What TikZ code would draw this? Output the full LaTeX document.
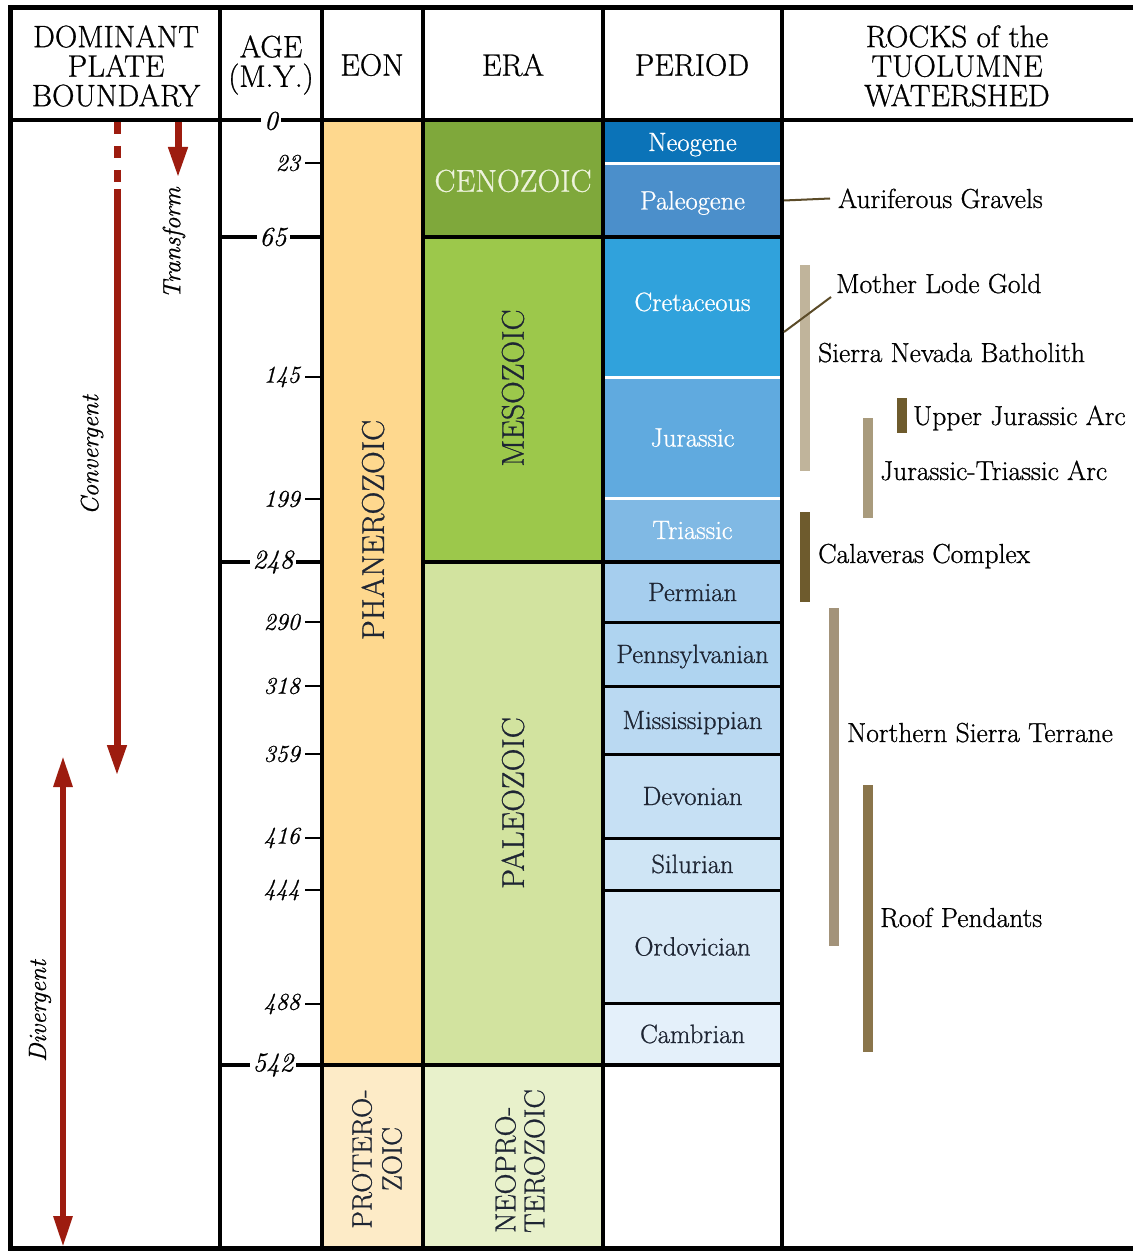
\documentclass[tikz,border=0pt]{standalone}
\usepackage{fontspec}
\setmainfont{Latin Modern Roman}[FakeBold=0.8]
\usetikzlibrary{arrows.meta}

% palette
\definecolor{arrowred}{HTML}{9D1C0F}
\definecolor{phan}{HTML}{FED88E}
\definecolor{prot}{HTML}{FDEBC7}
\definecolor{ceno}{HTML}{7FA83B}
\definecolor{meso}{HTML}{9CC84B}
\definecolor{paleo}{HTML}{D2E39F}
\definecolor{neopro}{HTML}{E8F1CB}
\definecolor{neogene}{HTML}{0B73B8}
\definecolor{paleogene}{HTML}{4B8FCB}
\definecolor{cret}{HTML}{30A2DC}
\definecolor{jura}{HTML}{60AADF}
\definecolor{tria}{HTML}{80B9E4}
\definecolor{perm}{HTML}{A6CEEE}
\definecolor{penn}{HTML}{AFD4F0}
\definecolor{miss}{HTML}{BAD9F2}
\definecolor{devo}{HTML}{C6E0F4}
\definecolor{silu}{HTML}{CFE5F5}
\definecolor{ordo}{HTML}{D9EAF7}
\definecolor{camb}{HTML}{E4F0FA}
\definecolor{cenotext}{HTML}{EEF3DC}
\definecolor{darktext}{HTML}{1E2533}
\definecolor{barlight}{HTML}{C0B49B}
\definecolor{bardark}{HTML}{6E5B2D}
\definecolor{barmid}{HTML}{A99B7D}
\definecolor{barnst}{HTML}{A3937A}
\definecolor{barroof}{HTML}{8A754B}
\definecolor{leadercol}{HTML}{5B4B28}

% type sizes
\newcommand\hdrfont{\fontsize{31}{29.5}\selectfont}
\newcommand\perfont{\fontsize{26.5}{30}\selectfont}
\newcommand\agebigfont{\fontsize{27}{29}\itshape\selectfont}
\newcommand\agesmallfont{\fontsize{24}{27}\itshape\selectfont}
\newcommand\platefont{\fontsize{25}{28}\itshape\selectfont}
\newcommand\erafont{\fontsize{31.5}{33}\selectfont}
\newcommand\protfont{\fontsize{28}{30}\selectfont}
\newcommand\neoprofont{\fontsize{29}{29}\selectfont}
\newcommand\rockfont{\fontsize{27.5}{30}\selectfont}

% a filled cell of the chart: [style]{name}{x left}{x right}{y top}{y bottom}{fill}{text}
\newcommand\gcell[8][]{%
  \pgfmathsetmacro\cellw{#4-#3}%
  \pgfmathsetmacro\cellh{#6-#5}%
  \node[cellbox, fill=#7, minimum width=\cellw pt, minimum height=\cellh pt, #1]
    (#2) at ({(#3+#4)/2},{(#5+#6)/2}) {#8};}

% a vertical age-range bar: {name}{x centre}{y top}{y bottom}{colour}
\newcommand\rockbar[5]{%
  \pgfmathsetmacro\barh{#4-#3}%
  \node[barbox, fill=#5, minimum height=\barh pt] (#1) at (#2,{(#3+#4)/2}) {};}

\begin{document}
\begin{tikzpicture}[x=1pt,y=-1pt,
  cellbox/.style={rectangle, draw=none, inner sep=0pt, outer sep=0pt,
    text height=20pt, text depth=2pt},
  period/.style={font=\perfont, text=darktext},
  periodw/.style={font=\perfont, text=white},
  frame/.style={line width=5pt, black, line join=miter},
  grid/.style={line width=4pt, black},
  thinrule/.style={line width=3pt, black},
  seprule/.style={line width=3pt, white},
  hdr/.style={font=\hdrfont, align=center, inner sep=0pt},
  agebig/.style={font=\agebigfont, fill=white, inner sep=3pt},
  agesmall/.style={font=\agesmallfont, anchor=east, inner sep=0pt},
  tickline/.style={line width=2pt, black},
  plate/.style={draw=arrowred, line width=7pt},
  platehead/.style={-{Triangle[length=31pt,width=18pt]}},
  platelabel/.style={font=\platefont, rotate=90, inner sep=0pt},
  eralabel/.style={font=\erafont, rotate=90, text=darktext, inner sep=0pt},
  rocklabel/.style={font=\rockfont, anchor=base west, inner sep=0pt},
  barbox/.style={rectangle, draw=none, inner sep=0pt, outer sep=0pt, minimum width=10pt},
  leader/.style={draw=leadercol, line width=2pt},
]
\useasboundingbox (0,0) rectangle (1133,1252);
\fill[white] (0,0) rectangle (1133,1252);

% ---- eons ----
\gcell{phan}{322}{423}{120}{1065}{phan}{}
\gcell{prot}{322}{423}{1065}{1248}{prot}{}

% ---- eras ----
\gcell[font=\erafont, text=cenotext, text height=28pt, text depth=1.6pt]{ceno}{423}{603}{120}{237}{ceno}{CENOZOIC}
\gcell{meso}{423}{603}{237}{562}{meso}{}
\gcell{paleo}{423}{603}{562}{1065}{paleo}{}
\gcell{neopro}{423}{603}{1065}{1248}{neopro}{}

% ---- periods ----
\gcell[periodw]{neogene}{603}{782}{120}{164}{neogene}{Neogene}
\gcell[periodw]{paleogene}{603}{782}{164}{237}{paleogene}{Paleogene}
\gcell[periodw, text depth=12pt]{cret}{603}{782}{237}{377}{cret}{Cretaceous}
\gcell[periodw]{jura}{603}{782}{377}{498}{jura}{Jurassic}
\gcell[periodw]{tria}{603}{782}{498}{562}{tria}{Triassic}
\gcell[period]{perm}{603}{782}{562}{622}{perm}{Permian}
\gcell[period]{penn}{603}{782}{622}{686}{penn}{Pennsylvanian}
\gcell[period]{miss}{603}{782}{686}{754}{miss}{Mississippian}
\gcell[period]{devo}{603}{782}{754}{838}{devo}{Devonian}
\gcell[period]{silu}{603}{782}{838}{890}{silu}{Silurian}
\gcell[period]{ordo}{603}{782}{890}{1003}{ordo}{Ordovician}
\gcell[period]{camb}{603}{782}{1003}{1065}{camb}{Cambrian}

% white partings inside the Cenozoic and Mesozoic
\foreach \y in {164,377,498} \draw[seprule] (603,\y) -- (782,\y);

% ---- ruling ----
\draw[frame] (1133,8) -- (10,8) -- (10,1248) -- (1133,1248);
\draw[grid] (10,120) -- (1133,120);
\foreach \x in {220,322,423,603,782} \draw[grid] (\x,8) -- (\x,1248);
\draw[grid] (220,237) -- (322,237);
\draw[grid] (423,237) -- (782,237);
\draw[grid] (220,562) -- (322,562);
\draw[grid] (423,562) -- (782,562);
\draw[grid] (220,1065) -- (782,1065);
\foreach \y in {622,686,754,838,890,1003} \draw[thinrule] (603,\y) -- (782,\y);

% ---- headings ----
\node[hdr] (hplate) at (116,66) {DOMINANT\\PLATE\\BOUNDARY};
\node[hdr] (hage) at (271,65) {AGE\\(M.Y.)};
\node[hdr] (heon) at (372,65) {EON};
\node[hdr] (hera) at (513,65) {ERA};
\node[hdr] (hperiod) at (692,65) {PERIOD};
\node[hdr] (hrocks) at (957,66) {ROCKS of the\\TUOLUMNE\\WATERSHED};

% ---- age scale ----
\node[agebig] (t0) at (271,121) {0};
\node[agebig] (t65) at (273,237) {65};
\node[agebig] (t248) at (273,562) {248};
\node[agebig] (t542) at (273,1065) {542};
\foreach \a/\y in {23/163,145/377,199/499,290/622,318/686,359/754,416/838,444/890,488/1004}{
  \node[agesmall] (t\a) at (300,\y) {\a};
  \draw[tickline] ([xshift=5pt]t\a.east) -- (322,\y);
}

% ---- eon and era names ----
\node[eralabel] (phanname) at (373,530) {PHANEROZOIC};
\node[eralabel, font=\protfont, align=center] (protname) at (377,1159) {PROTERO-\\ZOIC};
\node[eralabel] (mesoname) at (513,388) {MESOZOIC};
\node[eralabel] (paleoname) at (513,803) {PALEOZOIC};
\node[eralabel, font=\neoprofont, align=left] (neoproname) at (520,1161) {NEOPRO-\\TEROZOIC};

% ---- plate boundary regimes ----
\coordinate (convtop) at (117,122);
\coordinate (convdash) at (117,183);
\coordinate (convbody) at (117,189);
\coordinate (convtip) at (117,776);
\coordinate (transtop) at (178,122);
\coordinate (transtip) at (178,178);
\coordinate (divtop) at (63,756);
\coordinate (divbot) at (63,1247);
\draw[plate, dash pattern=on 12pt off 12pt] (convtop) -- (convdash);
\draw[plate, platehead] (convbody) -- (convtip);
\draw[plate, platehead] (transtop) -- (transtip);
\draw[plate, line width=6pt, {Triangle[length=31pt,width=18pt]}-{Triangle[length=31pt,width=18pt]}] (divtop) -- (divbot);
\node[platelabel] (transname) at (174,243) {Transform};
\node[platelabel] (convname) at (92,455) {Convergent};
\node[platelabel] (divname) at (40,1011) {Divergent};

% ---- rock units ----
\rockbar{batholith}{805}{265}{471}{barlight}
\rockbar{ujarc}{902}{398}{433}{bardark}
\rockbar{jtarc}{868}{418}{518}{barmid}
\rockbar{calaveras}{805}{512}{602}{bardark}
\rockbar{nsterrane}{834}{608}{946}{barnst}
\rockbar{roof}{868}{785}{1052}{barroof}

\node[rocklabel] (aur) at (838,208) {Auriferous Gravels};
\node[rocklabel] (mlg) at (836,293) {Mother Lode Gold};
\node[rocklabel] (snb) at (818,362) {Sierra Nevada Batholith};
\node[rocklabel] (uja) at (913,425) {Upper Jurassic Arc};
\node[rocklabel] (jta) at (880,480) {Jurassic-Triassic Arc};
\node[rocklabel] (cal) at (818,563) {Calaveras Complex};
\node[rocklabel] (nst) at (847,742) {Northern Sierra Terrane};
\node[rocklabel] (rpd) at (880,927) {Roof Pendants};

\draw[leader] ([xshift=2pt]paleogene.east) -- ([xshift=-8pt]aur.west);
\draw[leader] ([xshift=2pt,yshift=-25pt]cret.east) -- ([xshift=-5pt,yshift=-4pt]mlg.base west);
\end{tikzpicture}
\end{document}
